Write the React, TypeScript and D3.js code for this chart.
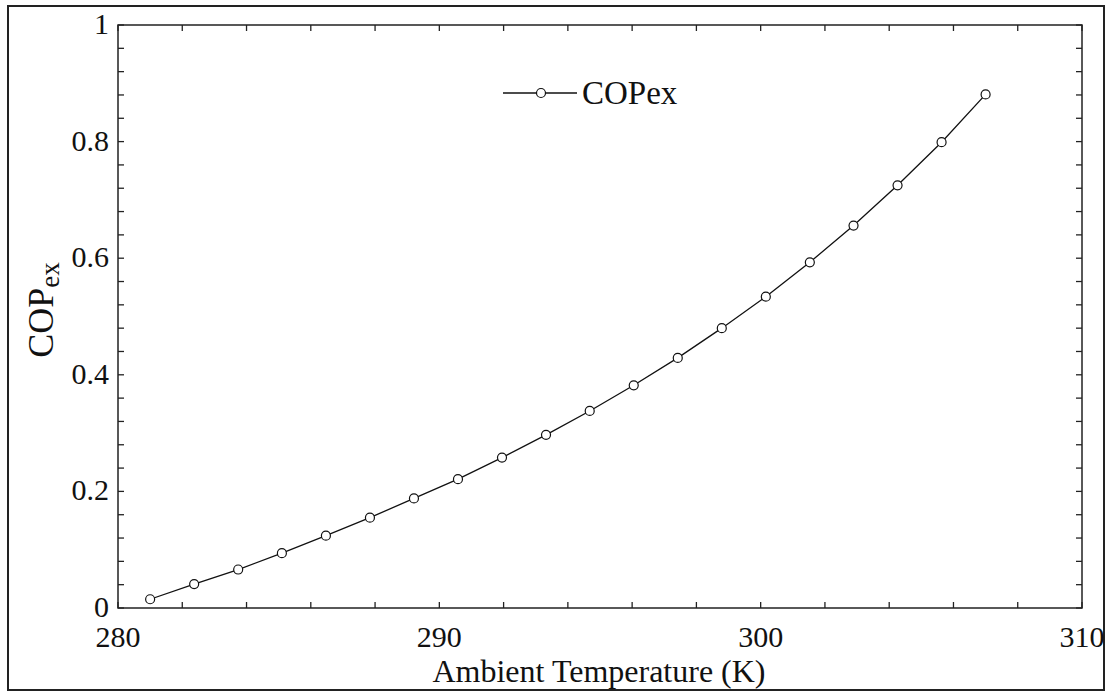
import React from "react";
import * as d3 from "d3";

// Ambient temperature (K) and exergetic COP values
const temperatures = [
  281.0, 282.37, 283.74, 285.1, 286.47, 287.84, 289.21, 290.58, 291.95, 293.32,
  294.68, 296.05, 297.42, 298.79, 300.16, 301.53, 302.89, 304.26, 305.63, 307.0,
];
const copEx = [
  0.015, 0.041, 0.066, 0.094, 0.124, 0.155, 0.188, 0.221, 0.258, 0.297,
  0.338, 0.382, 0.429, 0.48, 0.534, 0.593, 0.656, 0.725, 0.799, 0.881,
];
const xTickLabels = [280, 290, 300, 310];
const yTickLabels = [0, 0.2, 0.4, 0.6, 0.8, 1];
const seriesName = "COPex";

const W = 1110;
const H = 693;
const plot = { left: 118, right: 1082, top: 25, bottom: 608 };
const serif = "Liberation Serif, Tinos, Times New Roman, DejaVu Serif, serif";

export default function App() {
  const x = d3.scaleLinear().domain([280, 310]).range([plot.left, plot.right]);
  const y = d3.scaleLinear().domain([0, 1]).range([plot.bottom, plot.top]);

  const xMinor = d3.range(280, 310.001, 2);
  const yMinor = d3.range(0, 1.0001, 0.04);

  const pts: [number, number][] = temperatures.map((t, i) => [t, copEx[i]]);
  const line = d3
    .line<[number, number]>()
    .x((d) => x(d[0]))
    .y((d) => y(d[1]));

  const tick = 6;
  const fmt = (v: number) => (v === 0 || v === 1 ? String(v) : v.toFixed(1));
  const textStyle = { fontFamily: serif };

  return (
    <svg
      width={W}
      height={H}
      style={{ position: "absolute", left: 0, top: 0, background: "#fff", fontFamily: serif }}
    >
      <rect x={0} y={0} width={W} height={H} fill="#fff" />
      {/* outer frame */}
      <rect x={8} y={6} width={1096} height={684} fill="none" stroke="#222" strokeWidth={2} />

      {/* plot box */}
      <rect
        x={plot.left}
        y={plot.top}
        width={plot.right - plot.left}
        height={plot.bottom - plot.top}
        fill="none"
        stroke="#222"
        strokeWidth={1.5}
      />

      {/* inward ticks on all four sides */}
      <g stroke="#222" strokeWidth={1.3}>
        {xMinor.map((v) => (
          <g key={"xt" + v}>
            <line x1={x(v)} x2={x(v)} y1={plot.bottom} y2={plot.bottom - tick} />
            <line x1={x(v)} x2={x(v)} y1={plot.top} y2={plot.top + tick} />
          </g>
        ))}
        {yMinor.map((v) => (
          <g key={"yt" + v}>
            <line x1={plot.left} x2={plot.left + tick} y1={y(v)} y2={y(v)} />
            <line x1={plot.right} x2={plot.right - tick} y1={y(v)} y2={y(v)} />
          </g>
        ))}
      </g>

      {/* tick labels */}
      <g fontSize={30} fill="#111">
        {xTickLabels.map((v) => (
          <text key={"xl" + v} x={x(v)} y={647} textAnchor="middle" style={textStyle}>
            {v}
          </text>
        ))}
        {yTickLabels.map((v) => (
          <text key={"yl" + v} x={plot.left - 9} y={y(v) + 9} textAnchor="end" style={textStyle}>
            {fmt(v)}
          </text>
        ))}
      </g>

      {/* axis titles */}
      <text x={599} y={682} textAnchor="middle" fontSize={32} fill="#111" style={textStyle}>
        Ambient Temperature (K)
      </text>
      <text
        transform={`translate(53, 310) rotate(-90)`}
        textAnchor="middle"
        fontSize={36}
        fill="#111"
        style={textStyle}
      >
        COP
        <tspan fontSize={27} dy={6}>
          ex
        </tspan>
      </text>

      {/* series */}
      <path d={line(pts) ?? ""} fill="none" stroke="#111" strokeWidth={1.3} />
      {pts.map((d, i) => (
        <circle
          key={"p" + i}
          cx={x(d[0])}
          cy={y(d[1])}
          r={4.5}
          fill="#fff"
          stroke="#111"
          strokeWidth={1.2}
        />
      ))}

      {/* legend */}
      <line x1={503} x2={577} y1={93} y2={93} stroke="#111" strokeWidth={1.3} />
      <circle cx={541} cy={93} r={4.5} fill="#fff" stroke="#111" strokeWidth={1.2} />
      <text x={582} y={104} fontSize={33} fill="#111" style={textStyle}>
        {seriesName}
      </text>
    </svg>
  );
}
